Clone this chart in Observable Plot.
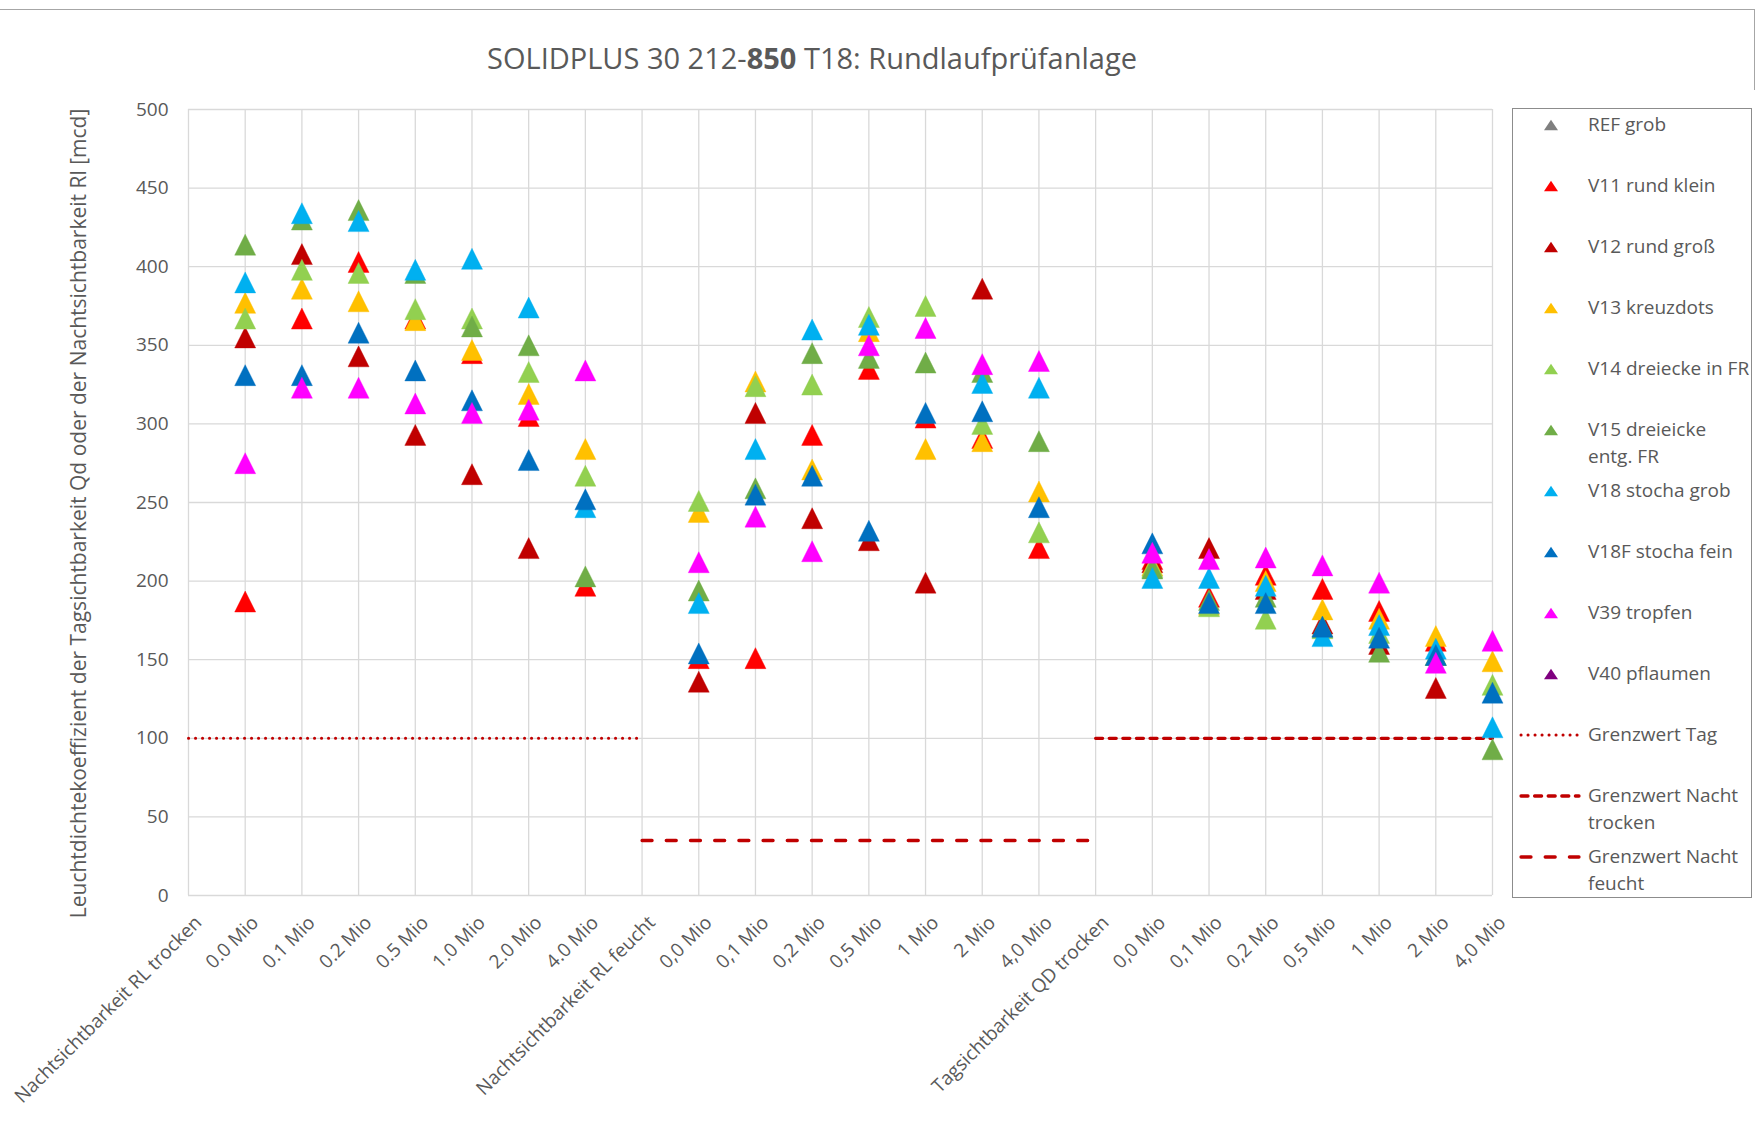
<!DOCTYPE html>
<html>
<head>
<meta charset="utf-8">
<script src="https://cdn.jsdelivr.net/npm/d3@7"></script>
<script src="https://cdn.jsdelivr.net/npm/@observablehq/plot@0.6"></script>
<style>
  body { margin: 0; background: white; font-family: 'Open Sans', sans-serif; color: #595959; }
  #wrap { position: relative; width: 1760px; height: 1138px; overflow: hidden; background: white; }
  #title { position: absolute; left: 0; top: 38px; width: 1624px; text-align: center; font-size: 29px; line-height: 40px; color: #595959; }
  #chart { position: absolute; left: 0; top: 90px; }
  #legendBox { position: absolute; left: 1512px; top: 108px; width: 240px; height: 790px; border: 1.5px solid #8c8c8c; box-sizing: border-box; }
  .ltext { position: absolute; left: 1588px; font-size: 19px; line-height: 27px; color: #595959; white-space: nowrap; }
  .lmark { position: absolute; left: 1516px; }
</style>
</head>
<body>
<div id="wrap">
  <div style="position:absolute;left:0;top:9px;width:1755px;border-top:1.5px solid #a6a6a6"></div>
  <div style="position:absolute;left:1754px;top:9px;height:1129px;border-left:1.5px solid #a6a6a6"></div>
  <div id="title">SOLIDPLUS 30 212-<b>850</b> T18: Rundlaufprüfanlage</div>
  <div id="chart"></div>
  <div id="legendBox"></div>
</div>
<script>
const _ = null;
const xLabels = ["Nachtsichtbarkeit RL trocken","0.0 Mio","0.1 Mio","0.2 Mio","0.5 Mio","1.0 Mio","2.0 Mio","4.0 Mio",
  "Nachtsichtbarkeit RL feucht","0,0 Mio","0,1 Mio","0,2 Mio","0,5 Mio","1 Mio","2 Mio","4,0 Mio",
  "Tagsichtbarkeit QD trocken","0,0 Mio","0,1 Mio","0,2 Mio","0,5 Mio","1 Mio","2 Mio","4,0 Mio"];
const categoryIndex = [0,1,2,3,4,5,6,7,8,9,10,11,12,13,14,15,16,17,18,19,20,21,22,23];
const yTicks = [0,50,100,150,200,250,300,350,400,450,500];
const yLabel = "Leuchtdichtekoeffizient der Tagsichtbarkeit Qd oder der Nachtsichtbarkeit Rl [mcd]";

const seriesNames = ["REF grob","V11 rund klein","V12 rund groß","V13 kreuzdots","V14 dreiecke in FR","V15 dreieicke entg. FR","V18 stocha grob","V18F stocha fein","V39 tropfen","V40 pflaumen"];
const legendLabels = ["REF grob","V11 rund klein","V12 rund groß","V13 kreuzdots","V14 dreiecke in FR","V15 dreieicke<br>entg. FR","V18 stocha grob","V18F stocha fein","V39 tropfen","V40 pflaumen"];
const seriesColors = ["#7F7F7F","#FF0000","#C00000","#FFC000","#92D050","#70AD47","#00B0F0","#0070C0","#FF00FF","#7F007F"];

const refGrob = [_,_,_,_,_,_,_,_, _,_,_,_,_,_,_,_, _,_,_,_,_,_,_,_];
const v11 = [_,187,367,403,367,345,305,197, _,151,151,293,335,304,291,221, _,214,190,204,195,181,162,_];
const v12 = [_,355,408,343,293,268,221,_, _,136,307,240,226,199,386,_, _,212,221,195,173,160,132,_];
const v13 = [_,377,386,378,366,347,319,284, _,244,327,271,359,284,289,257, _,210,185,200,182,176,165,149];
const v14 = [_,367,398,396,373,367,333,267, _,251,324,325,368,375,300,231, _,209,184,176,170,167,153,134];
const v15 = [_,414,430,436,396,362,350,203, _,194,259,345,342,339,333,289, _,208,188,190,171,155,153,93];
const v18 = [_,390,434,429,398,405,374,247, _,186,284,360,363,_,326,323, _,202,202,197,165,172,157,107];
const v18f = [_,331,331,358,334,315,277,252, _,154,255,267,232,307,308,247, _,224,186,186,171,164,153,129];
const v39 = [_,275,323,323,313,307,309,334, _,212,241,219,350,361,338,340, _,218,214,215,210,199,148,162];
const v40 = [_,_,_,_,_,_,_,_, _,_,_,_,_,_,_,_, _,_,_,_,_,_,_,_];

const grenzTag =          [100,100,100,100,100,100,100,100,100,_,_,_,_,_,_,_,_,_,_,_,_,_,_,_];
const grenzNachtFeucht =  [_,_,_,_,_,_,_,_,35,35,35,35,35,35,35,35,35,_,_,_,_,_,_,_];
const grenzNachtTrocken = [_,_,_,_,_,_,_,_,_,_,_,_,_,_,_,_,100,100,100,100,100,100,100,100];

const allSeries = [refGrob,v11,v12,v13,v14,v15,v18,v18f,v39,v40];
const points = [];
allSeries.forEach((arr, s) => arr.forEach((v, i) => { if (v != null) points.push({series: seriesNames[s], x: categoryIndex[i], y: v}); }));
const toLine = arr => arr.map((v, i) => ({x: categoryIndex[i], y: v})).filter(d => d.y != null);

const lineStyles = {
  tag: {strokeWidth: 3, strokeDasharray: "0.1 6.9", strokeLinecap: "round"},
  trocken: {strokeWidth: 3.3, strokeDasharray: "7 6.6", strokeLinecap: "round"},
  feucht: {strokeWidth: 3.3, strokeDasharray: "10 14.2", strokeLinecap: "round"}
};

const excelTriangle = {
  draw(ctx, size) {
    const r = Math.sqrt(size / Math.PI);
    ctx.moveTo(0, -r); ctx.lineTo(r, r); ctx.lineTo(-r, r); ctx.closePath();
  }
};

const chart = Plot.plot({
  width: 1760, height: 1048,
  marginLeft: 188, marginRight: 268, marginTop: 19, marginBottom: 243,
  x: {type: "point", domain: categoryIndex, padding: 0, round: false, axis: null, label: null},
  y: {domain: [0, 500], axis: null, label: null},
  color: {domain: seriesNames, range: seriesColors},
  style: {fontFamily: "'Open Sans', sans-serif", color: "#595959", background: "white", overflow: "visible"},
  marks: [
    Plot.gridY(yTicks, {stroke: "#D9D9D9", strokeOpacity: 1, strokeWidth: 1.3}),
    Plot.gridX(categoryIndex, {stroke: "#D9D9D9", strokeOpacity: 1, strokeWidth: 1.3}),
    Plot.axisY(yTicks, {tickSize: 0, tickPadding: 20, fontSize: 19, label: null}),
    Plot.axisX(categoryIndex, {tickSize: 0, tickPadding: 24, dx: 10, tickRotate: -45, fontSize: 19, label: null, tickFormat: i => xLabels[i]}),
    Plot.text([yLabel], {frameAnchor: "left", textAnchor: "middle", rotate: -90, dx: -109, dy: 11, fontSize: 21, fill: "#595959", text: d => d}),
    Plot.line(toLine(grenzTag), {x: "x", y: "y", stroke: "#C00000", ...lineStyles.tag}),
    Plot.line(toLine(grenzNachtFeucht), {x: "x", y: "y", stroke: "#C00000", ...lineStyles.feucht}),
    Plot.line(toLine(grenzNachtTrocken), {x: "x", y: "y", stroke: "#C00000", ...lineStyles.trocken}),
    Plot.dot(points, {x: "x", y: "y", fill: "series", stroke: "series", strokeWidth: 0.4, r: 10.5, symbol: excelTriangle})
  ]
});
document.getElementById("chart").appendChild(chart);

// Legend
const wrap = document.getElementById("wrap");
const legendItems = legendLabels.map((l, i) => ({label: l, type: "marker", color: seriesColors[i]}))
  .concat([
    {label: "Grenzwert Tag", type: "tag"},
    {label: "Grenzwert Nacht<br>trocken", type: "trocken"},
    {label: "Grenzwert Nacht<br>feucht", type: "feucht"}
  ]);
legendItems.forEach((it, k) => {
  const cy = 124.6 + 61 * k;
  const t = document.createElement("div");
  t.className = "ltext";
  t.style.top = (cy - 13.5) + "px";
  t.innerHTML = it.label;
  wrap.appendChild(t);
  const m = document.createElementNS("http://www.w3.org/2000/svg", "svg");
  m.setAttribute("class", "lmark");
  m.setAttribute("width", 68); m.setAttribute("height", 20);
  m.style.top = (cy - 10) + "px";
  if (it.type === "marker") {
    m.innerHTML = `<path d="M35,4.8 L42,15.2 L28,15.2 Z" fill="${it.color}"/>`;
  } else {
    const st = lineStyles[it.type];
    m.innerHTML = `<line x1="5" x2="63" y1="10" y2="10" stroke="#C00000" stroke-width="${st.strokeWidth}" stroke-dasharray="${st.strokeDasharray}" stroke-linecap="round"/>`;
  }
  wrap.appendChild(m);
});
</script>
</body>
</html>
